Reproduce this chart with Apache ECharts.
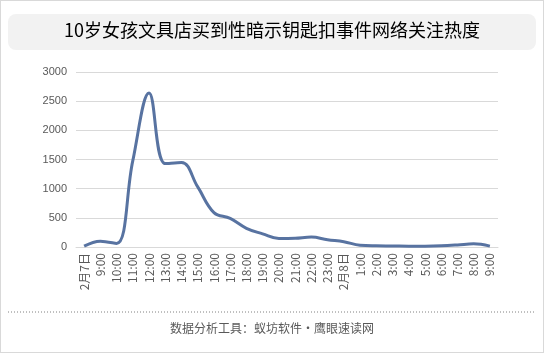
<!DOCTYPE html>
<html>
<head>
<meta charset="utf-8">
<script src="https://cdn.jsdelivr.net/npm/echarts@6/dist/echarts.min.js"></script>
<style>
    html, body { margin: 0; padding: 0; background: #fff; }
    #chartArea { width: 544px; height: 353px; box-sizing: border-box; border: 1px solid #d9d9d9; }
</style>
</head>
<body>
<div id="chartArea"></div>
<script>
var titleText = '10岁女孩文具店买到性暗示钥匙扣事件网络关注热度';
var footerText = '数据分析工具：蚁坊软件·鹰眼速读网';

var hours = ['2月7日', '9:00', '10:00', '11:00', '12:00', '13:00', '14:00', '15:00', '16:00',
    '17:00', '18:00', '19:00', '20:00', '21:00', '22:00', '23:00', '2月8日',
    '1:00', '2:00', '3:00', '4:00', '5:00', '6:00', '7:00', '8:00', '9:00'];
var heatValues = [15, 100, 60, 1480, 2640, 1430, 1450, 1030, 590,
    490, 320, 225, 145, 150, 170, 125, 90,
    30, 20, 18, 15, 15, 20, 35, 55, 15];
var yTicks = [0, 500, 1000, 1500, 2000, 2500, 3000];

var myChart = echarts.init(document.getElementById('chartArea'), null, { renderer: 'canvas' });

var option = {
    animation: false,
    textStyle: { fontFamily: '"Noto Sans CJK SC", "Noto Sans", sans-serif' },
    graphic: [
        {
            type: 'rect',
            left: 7, top: 13,
            shape: { width: 528, height: 36, r: 8 },
            style: { fill: '#f2f2f2' }
        },
        {
            type: 'text',
            left: 'center', top: 20,
            style: {
                text: titleText,
                fill: '#000000',
                font: '18px "Noto Sans CJK SC", sans-serif'
            }
        },
        {
            type: 'line',
            shape: { x1: 7, y1: 311, x2: 535, y2: 311 },
            style: { stroke: '#808080', lineWidth: 1, lineDash: [1, 2] }
        },
        {
            type: 'text',
            left: 'center', top: 321,
            style: {
                text: footerText,
                fill: '#595959',
                font: '12px "Noto Sans CJK SC", sans-serif'
            }
        }
    ],
    grid: { left: 75, right: 45, top: 71, bottom: 105, containLabel: false },
    xAxis: {
        type: 'category',
        boundaryGap: true,
        data: hours,
        axisLine: { lineStyle: { color: '#d9d9d9', width: 1 } },
        axisTick: { show: false },
        axisLabel: {
            rotate: 90,
            interval: 0,
            margin: 6,
            color: '#595959',
            fontSize: 12,
            fontFamily: '"Noto Sans CJK SC", sans-serif'
        }
    },
    yAxis: {
        type: 'value',
        min: yTicks[0],
        max: yTicks[yTicks.length - 1],
        interval: 500,
        axisLine: { show: false },
        axisTick: { show: false },
        splitLine: { lineStyle: { color: '#d9d9d9', width: 1 } },
        axisLabel: {
            margin: 9,
            color: '#595959',
            fontSize: 11,
            fontFamily: 'Liberation Sans, sans-serif',
            formatter: function(v) { return String(v); }
        }
    },
    series: [{
        type: 'line',
        data: heatValues,
        smooth: 0.4,
        symbol: 'none',
        lineStyle: { color: '#5873a1', width: 3 }
    }]
};

myChart.setOption(option);
</script>
</body>
</html>
